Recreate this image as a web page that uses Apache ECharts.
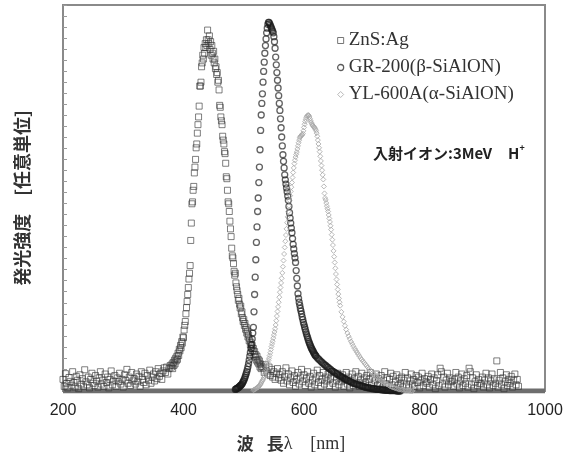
<!DOCTYPE html>
<html>
<head>
<meta charset="utf-8">
<script src="https://cdn.jsdelivr.net/npm/echarts@6/dist/echarts.min.js"></script>
<style>
  html, body { margin: 0; padding: 0; background: #fff; }
  #chart { width: 569px; height: 459px; }
</style>
</head>
<body>
<div id="chart"></div>
<script>
// 波長軸 (nm)
var xTicks = [200, 400, 600, 800, 1000];
var seriesNames = ['ZnS:Ag', 'GR-200(β-SiAlON)', 'YL-600A(α-SiAlON)'];

// ZnS:Ag  200-378nm 2nm毎
var znsLowStart = 200, znsLowStep = 2;
var znsLow = [
  0.030,0.012,0.045,0.020,0.008,0.035,0.025,0.015,0.050,0.022,
  0.010,0.038,0.028,0.006,0.042,0.018,0.032,0.012,0.055,0.024,
  0.016,0.036,0.008,0.030,0.046,0.020,0.014,0.040,0.026,0.010,
  0.034,0.050,0.018,0.028,0.012,0.044,0.022,0.036,0.008,0.030,
  0.052,0.016,0.026,0.040,0.012,0.034,0.024,0.046,0.018,0.030,
  0.010,0.042,0.028,0.056,0.020,0.036,0.014,0.048,0.026,0.032,
  0.018,0.044,0.024,0.038,0.012,0.050,0.030,0.022,0.046,0.016,
  0.040,0.028,0.054,0.020,0.036,0.044,0.026,0.050,0.032,0.058,
  0.038,0.046,0.030,0.052,0.060,0.048,0.062,0.044,0.058,0.066
];
// ZnS:Ag  380-530nm 1nm毎 (ピーク)
var znsPeakStart = 380, znsPeakStep = 1;
var znsPeak = [
  0.062,0.070,0.058,0.074,0.066,0.080,0.070,0.085,0.078,0.090,
  0.082,0.098,0.092,0.108,0.104,0.118,0.112,0.128,0.124,0.140,
  0.138,0.158,0.170,0.180,0.200,0.216,0.232,0.250,0.268,0.290,
  0.305,0.325,0.390,0.435,0.485,0.490,0.520,0.530,0.565,0.580,
  0.600,0.630,0.640,0.668,0.690,0.710,0.738,0.790,0.790,0.800,
  0.840,0.850,0.870,0.860,0.890,0.875,0.900,0.890,0.910,0.895,
  0.935,0.910,0.900,0.920,0.885,0.905,0.870,0.895,0.875,0.860,
  0.880,0.850,0.860,0.835,0.840,0.820,0.825,0.800,0.805,0.780,
  0.740,0.735,0.710,0.700,0.690,0.660,0.650,0.640,0.620,0.615,
  0.590,0.555,0.550,0.520,0.490,0.485,0.465,0.440,0.420,0.400,
  0.370,0.350,0.345,0.330,0.310,0.300,0.305,0.280,0.270,0.260,
  0.250,0.235,0.240,0.225,0.215,0.220,0.200,0.205,0.190,0.180,
  0.185,0.170,0.175,0.160,0.165,0.150,0.155,0.140,0.145,0.130,
  0.135,0.120,0.125,0.112,0.118,0.105,0.110,0.095,0.102,0.088,
  0.094,0.080,0.090,0.075,0.082,0.070,0.078,0.062,0.070,0.058,
  0.064
];
// ZnS:Ag  532-956nm 2nm毎
var znsHighStart = 532, znsHighStep = 2;
var znsHigh = [
  0.060,0.048,0.068,0.052,0.044,0.062,0.040,0.056,0.036,0.050,0.030,0.046,0.058,0.034,0.042,
  0.028,0.050,0.020,0.038,0.060,0.026,0.044,0.016,0.034,0.052,
  0.022,0.040,0.012,0.030,0.048,0.018,0.036,0.056,0.024,0.042,
  0.014,0.032,0.050,0.020,0.038,0.010,0.028,0.046,0.016,0.034,
  0.054,0.022,0.040,0.012,0.030,0.048,0.018,0.036,0.026,0.044,
  0.014,0.032,0.050,0.020,0.038,0.010,0.028,0.046,0.016,0.034,
  0.024,0.042,0.012,0.030,0.048,0.018,0.036,0.008,0.026,0.044,
  0.014,0.032,0.050,0.020,0.038,0.012,0.028,0.046,0.016,0.034,
  0.022,0.040,0.010,0.030,0.048,0.016,0.036,0.006,0.026,0.044,
  0.014,0.032,0.020,0.040,0.008,0.028,0.050,0.018,0.034,0.012,
  0.030,0.046,0.016,0.038,0.006,0.024,0.042,0.014,0.032,0.020,
  0.036,0.010,0.028,0.048,0.016,0.034,0.008,0.026,0.044,0.018,
  0.030,0.012,0.040,0.022,0.036,0.008,0.028,0.046,0.014,0.032,
  0.024,0.020,0.038,0.010,0.030,0.044,0.016,0.034,0.006,0.026,
  0.042,0.014,0.059,0.050,0.018,0.036,0.010,0.028,0.046,0.016,
  0.034,0.024,0.026,0.012,0.030,0.048,0.018,0.036,0.008,0.026,
  0.044,0.014,0.032,0.020,0.040,0.010,0.059,0.050,0.016,0.034,
  0.006,0.024,0.042,0.014,0.030,0.020,0.018,0.036,0.010,0.028,
  0.046,0.016,0.034,0.008,0.026,0.044,0.014,0.032,0.020,0.078,
  0.010,0.028,0.048,0.016,0.034,0.006,0.024,0.042,0.014,0.030,
  0.020,0.038,0.010,0.028,0.044,0.016,0.030,0.012
];

// GR-200(β-SiAlON)  486-620nm 1nm毎
var grAStart = 486, grAStep = 1;
var grA = [
  0.004,0.005,0.006,0.007,0.008,0.009,0.010,0.012,0.013,0.015,
  0.016,0.018,0.021,0.024,0.027,0.031,0.035,0.040,0.045,0.050,
  0.056,0.063,0.071,0.080,0.090,0.100,0.110,0.120,0.135,0.150,
  0.165,0.205,0.250,0.295,0.340,0.385,0.425,0.465,0.500,0.540,
  0.580,0.625,0.675,0.715,0.745,0.770,0.800,0.828,0.852,0.875,
  0.895,0.912,0.928,0.940,0.950,0.955,0.955,0.952,0.948,0.944,
  0.940,0.936,0.932,0.928,0.918,0.905,0.888,0.865,0.845,0.825,
  0.805,0.785,0.765,0.745,0.727,0.705,0.682,0.658,0.635,0.612,
  0.595,0.578,0.560,0.547,0.536,0.526,0.516,0.505,0.494,0.478,
  0.462,0.448,0.435,0.422,0.410,0.395,0.380,0.368,0.356,0.345,
  0.333,0.312,0.292,0.272,0.252,0.240,0.230,0.222,0.214,0.207,
  0.200,0.192,0.185,0.178,0.172,0.166,0.160,0.154,0.148,0.143,
  0.138,0.133,0.128,0.124,0.120,0.116,0.112,0.109,0.106,0.103,
  0.100,0.097,0.094,0.092,0.090
];
// GR-200  622-760nm 2nm毎
var grBStart = 622, grBStep = 2;
var grB = [
  0.086,0.083,0.080,0.077,0.074,0.071,0.068,0.066,0.063,0.061,
  0.058,0.056,0.053,0.051,0.049,0.047,0.045,0.043,0.041,0.039,
  0.037,0.035,0.033,0.031,0.030,0.028,0.026,0.025,0.023,0.022,
  0.020,0.019,0.018,0.017,0.016,0.015,0.014,0.013,0.012,0.011,
  0.010,0.009,0.009,0.008,0.007,0.007,0.006,0.006,0.005,0.005,
  0.004,0.004,0.004,0.003,0.003,0.003,0.002,0.002,0.002,0.002,
  0.001,0.001,0.001,0.001,0.001,0.001,0,0,0,0
];

// YL-600A(α-SiAlON)  516-660nm 1nm毎
var ylAStart = 516, ylAStep = 1;
var ylA = [
  0.002,0.003,0.004,0.005,0.006,0.007,0.008,0.009,0.010,0.012,
  0.014,0.016,0.018,0.021,0.024,0.027,0.030,0.034,0.039,0.044,
  0.050,0.055,0.061,0.067,0.073,0.079,0.085,0.092,0.099,0.107,
  0.115,0.122,0.129,0.137,0.145,0.153,0.161,0.171,0.182,0.194,
  0.206,0.218,0.230,0.243,0.256,0.268,0.280,0.292,0.306,0.322,
  0.338,0.355,0.372,0.388,0.404,0.420,0.436,0.451,0.465,0.480,
  0.494,0.506,0.517,0.528,0.540,0.553,0.566,0.578,0.589,0.598,
  0.606,0.613,0.619,0.627,0.635,0.643,0.650,0.656,0.659,0.661,
  0.662,0.664,0.667,0.674,0.683,0.691,0.698,0.704,0.709,0.712,
  0.714,0.715,0.714,0.710,0.705,0.700,0.696,0.692,0.689,0.687,
  0.685,0.683,0.681,0.678,0.674,0.668,0.660,0.650,0.640,0.630,
  0.620,0.608,0.596,0.584,0.572,0.560,0.548,0.530,0.512,0.500,
  0.495,0.487,0.479,0.472,0.465,0.456,0.447,0.438,0.428,0.418,
  0.405,0.392,0.378,0.363,0.348,0.333,0.318,0.303,0.289,0.276,
  0.263,0.251,0.240,0.230,0.221
];
// YL-600A  662-780nm 2nm毎
var ylBStart = 662, ylBStep = 2;
var ylB = [
  0.205,0.192,0.180,0.169,0.159,0.150,0.142,0.135,0.128,0.122,
  0.116,0.110,0.105,0.100,0.095,0.090,0.085,0.081,0.077,0.073,
  0.069,0.065,0.061,0.057,0.054,0.050,0.047,0.044,0.041,0.038,
  0.035,0.032,0.030,0.027,0.025,0.023,0.021,0.019,0.017,0.015,
  0.013,0.012,0.010,0.009,0.008,0.007,0.006,0.005,0.004,0.004,
  0.003,0.003,0.002,0.002,0.001,0.001,0.001,0,0,0
];

// 発光なしの区間 (全域でゼロ)
var baseNm = [200, 1000];
var baseVal = [0, 0];

function toPoints(start, step, vals) {
  return vals.map(function (v, i) { return [start + i * step, v]; });
}

var znsData = toPoints(znsLowStart, znsLowStep, znsLow)
  .concat(toPoints(znsPeakStart, znsPeakStep, znsPeak))
  .concat(toPoints(znsHighStart, znsHighStep, znsHigh));
var grData = toPoints(grAStart, grAStep, grA).concat(toPoints(grBStart, grBStep, grB));
var ylData = toPoints(ylAStart, ylAStep, ylA).concat(toPoints(ylBStart, ylBStep, ylB));
var baseData = baseNm.map(function (x, i) { return [x, baseVal[i]]; });

var chart = echarts.init(document.getElementById('chart'));

var option = {
  animation: false,
  backgroundColor: '#fff',
  grid: {
    left: 63, right: 24, top: 5, bottom: 68,
    show: true, borderColor: '#8a8a8a', borderWidth: 2
  },
  legend: {
    orient: 'vertical',
    left: 332, top: 25,
    itemWidth: 6, itemHeight: 6, itemGap: 6,
    textStyle: { fontFamily: 'Liberation Serif', fontSize: 19, color: '#333', lineHeight: 21 },
    data: [
      { name: seriesNames[0], icon: 'rect', itemStyle: { color: 'rgba(0,0,0,0)', borderColor: '#555', borderWidth: 1 } },
      { name: seriesNames[1], icon: 'circle', itemStyle: { color: 'rgba(0,0,0,0)', borderColor: '#333', borderWidth: 1.3 } },
      { name: seriesNames[2], icon: 'diamond', itemStyle: { color: 'rgba(0,0,0,0)', borderColor: '#aaa', borderWidth: 1 } }
    ]
  },
  xAxis: {
    type: 'value',
    min: xTicks[0], max: xTicks[xTicks.length - 1], interval: xTicks[1] - xTicks[0],
    axisLine: { lineStyle: { color: '#8a8a8a', width: 2 } },
    axisTick: { show: false },
    splitLine: { show: false },
    axisLabel: {
      margin: 12, fontFamily: 'Liberation Sans', fontSize: 16, color: '#222',
      formatter: function (v) { return String(v); }
    },
    name: '{a|波}{sp|}{a|長}{b|λ}{sp2|}{b|[nm]}',
    nameLocation: 'middle',
    nameGap: 44,
    nameTextStyle: {
      padding: [0, 26, 0, 0],
      rich: {
        a: { fontFamily: 'Noto Sans CJK JP', fontWeight: 'bold', fontSize: 17, color: '#333' },
        b: { fontFamily: 'Liberation Serif', fontSize: 18, color: '#333' },
        sp: { width: 13 },
        sp2: { width: 18 }
      }
    }
  },
  yAxis: {
    type: 'value',
    min: 0, max: 1, interval: 1 / 35,
    axisLine: { lineStyle: { color: '#8a8a8a', width: 2 } },
    axisTick: { inside: true, length: 4, lineStyle: { color: '#9a9a9a', width: 1 } },
    axisLabel: { show: false },
    splitLine: { show: false },
    name: '発光強度　[任意単位]',
    nameLocation: 'middle',
    nameGap: 32,
    nameTextStyle: { fontFamily: 'Noto Sans CJK JP', fontWeight: 'bold', fontSize: 18, color: '#333' }
  },
  graphic: [{
    type: 'text',
    left: 373, top: 144,
    style: {
      text: '{a|入射イオン:3MeV}{sp|}{a|H}{s|+}',
      rich: {
        a: { fontFamily: 'Noto Sans CJK JP', fontWeight: 'bold', fontSize: 15, fill: '#222', lineHeight: 18 },
        sp: { width: 16 },
        s: { fontFamily: 'Liberation Sans', fontWeight: 'bold', fontSize: 9, fill: '#222', verticalAlign: 'top', lineHeight: 18, padding: [0, 0, 8, 0] }
      }
    },
    z: 10
  }],
  series: [
    {
      type: 'line',
      data: baseData,
      symbol: 'none',
      silent: true,
      lineStyle: { color: '#6e6e6e', width: 5 },
      z: 1
    },
    {
      name: seriesNames[0],
      type: 'scatter',
      data: znsData,
      symbol: 'rect',
      symbolSize: 6,
      itemStyle: { color: 'rgba(0,0,0,0)', borderColor: 'rgba(55,55,55,0.8)', borderWidth: 1 },
      z: 2
    },
    {
      name: seriesNames[1],
      type: 'scatter',
      data: grData,
      symbol: 'circle',
      symbolSize: 6,
      itemStyle: { color: 'rgba(0,0,0,0)', borderColor: 'rgba(25,25,25,0.85)', borderWidth: 1.3 },
      z: 3
    },
    {
      name: seriesNames[2],
      type: 'scatter',
      data: ylData,
      symbol: 'diamond',
      symbolSize: 5,
      itemStyle: { color: 'rgba(0,0,0,0)', borderColor: '#a6a6a6', borderWidth: 1 },
      z: 4
    }
  ]
};

chart.setOption(option);
</script>
</body>
</html>
